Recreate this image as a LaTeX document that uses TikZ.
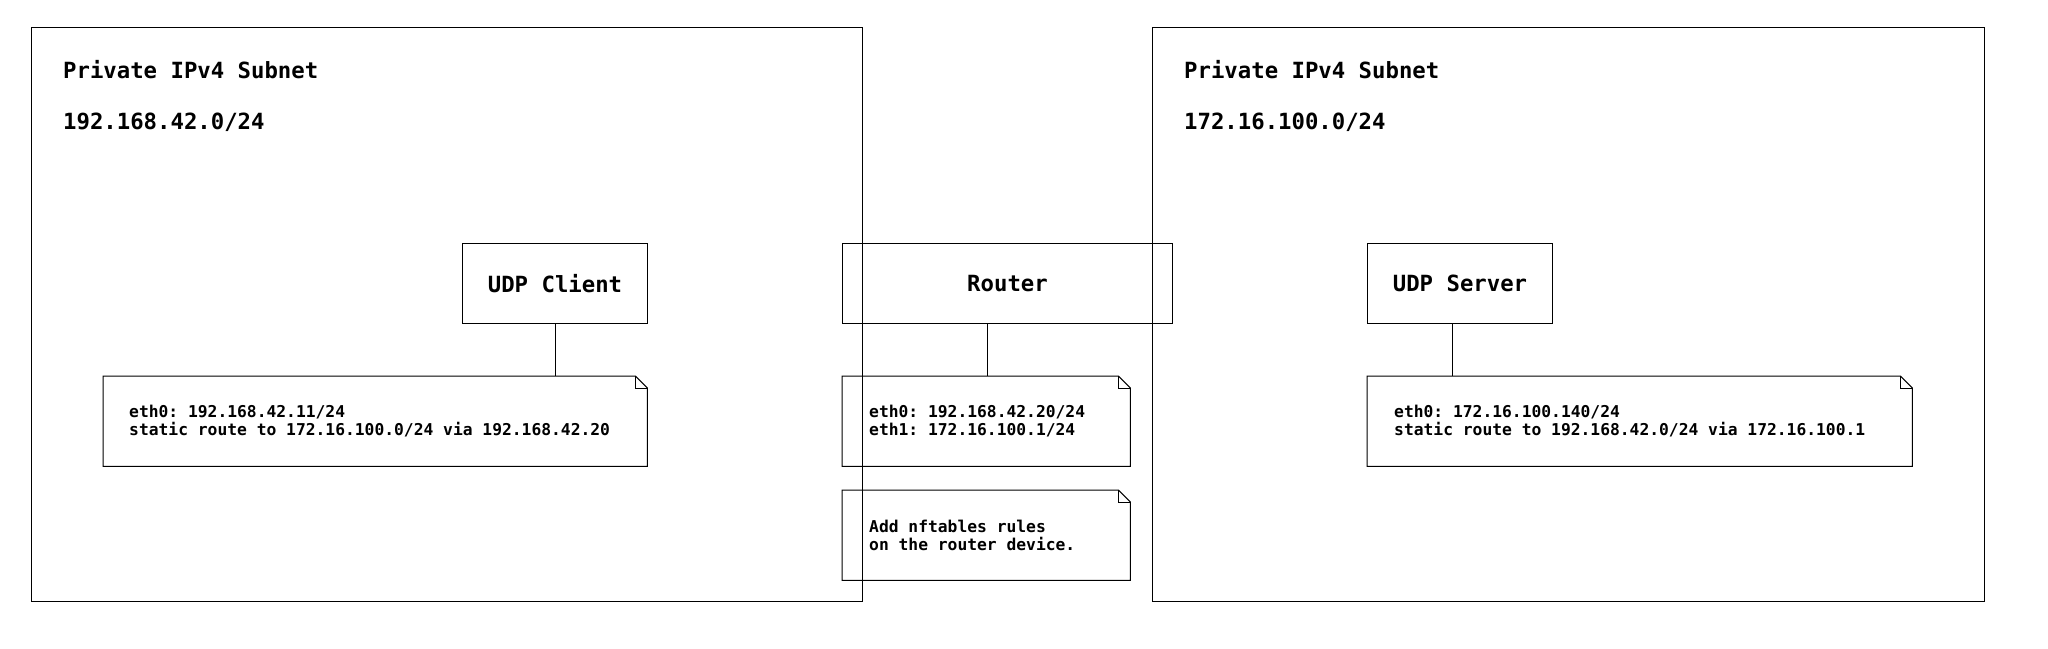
\documentclass[tikz,border=0pt]{standalone}
\usepackage{fontspec}
\setmonofont{DejaVu Sans Mono}
\newcommand\foldnote[1]{%
  \draw[line width=1pt] (#1.north west) -- ([xshift=-12pt]#1.north east) -- ([yshift=-12pt]#1.north east) -- (#1.south east) -- (#1.south west) -- cycle;
  \draw[line width=1pt] ([xshift=-12pt]#1.north east) -- ++(0,12) -- ([yshift=-12pt]#1.north east);}
\begin{document}
\begin{tikzpicture}[x=1pt,y=-1pt,
  region/.style={draw=black, line width=1pt, inner sep=0pt, anchor=north west},
  box/.style={draw=black, line width=1pt, inner sep=0pt, anchor=north west, minimum height=80pt, font=\ttfamily\bfseries\fontsize{22.3}{26}\selectfont},
  notebox/.style={inner sep=0pt, anchor=north west, minimum height=90pt},
  notetext/.style={inner sep=0pt, anchor=west, align=left, font=\ttfamily\bfseries\fontsize{16.3}{18.3}\selectfont},
  title/.style={anchor=base west, inner sep=0pt, font=\ttfamily\bfseries\fontsize{22.3}{26}\selectfont},
  link/.style={line width=1pt, draw=black}]
\useasboundingbox (0,0) rectangle (2048,648);
\fill[white] (0,0) rectangle (2048,648);
% subnets
\node[region, minimum width=831pt, minimum height=574pt] (lnet) at (31,27) {};
\node[region, minimum width=832pt, minimum height=574pt] (rnet) at (1152,27) {};
\node[title] (lt1) at (63,78) {Private IPv4 Subnet};
\node[title] (lt2) at (63,129) {192.168.42.0/24};
\node[title] (rt1) at (1184,78) {Private IPv4 Subnet};
\node[title] (rt2) at (1184,129) {172.16.100.0/24};
% devices
\node[box, minimum width=185pt] (cl) at (462,243) {UDP Client};
\node[box, minimum width=330pt] (rt) at (842,243) {Router};
\node[box, minimum width=185pt] (sv) at (1367,243) {UDP Server};
% notes
\node[notebox, minimum width=544pt] (cn) at (103,376) {};
\node[notebox, minimum width=288pt] (rn) at (842,376) {};
\node[notebox, minimum width=288pt] (nn) at (842,490) {};
\node[notebox, minimum width=545pt] (sn) at (1367,376) {};
\node[notetext] (cnt) at ([xshift=26pt]cn.west) {eth0: 192.168.42.11/24\\static route to 172.16.100.0/24 via 192.168.42.20};
\node[notetext] (rnt) at ([xshift=27pt]rn.west) {eth0: 192.168.42.20/24\\eth1: 172.16.100.1/24};
\node[notetext] (nnt) at ([xshift=27pt]nn.west) {Add nftables rules\\on the router device.};
\node[notetext] (snt) at ([xshift=27pt]sn.west) {eth0: 172.16.100.140/24\\static route to 192.168.42.0/24 via 172.16.100.1};
\foldnote{cn}
\foldnote{rn}
\foldnote{nn}
\foldnote{sn}
% connectors
\draw[link] (cl.south) -- (cl.south |- cn.north);
\draw[link] ([xshift=-20pt]rt.south) -- ([xshift=-20pt]rt.south |- rn.north);
\draw[link] ([xshift=-8pt]sv.south) -- ([xshift=-8pt]sv.south |- sn.north);
\end{tikzpicture}
\end{document}
